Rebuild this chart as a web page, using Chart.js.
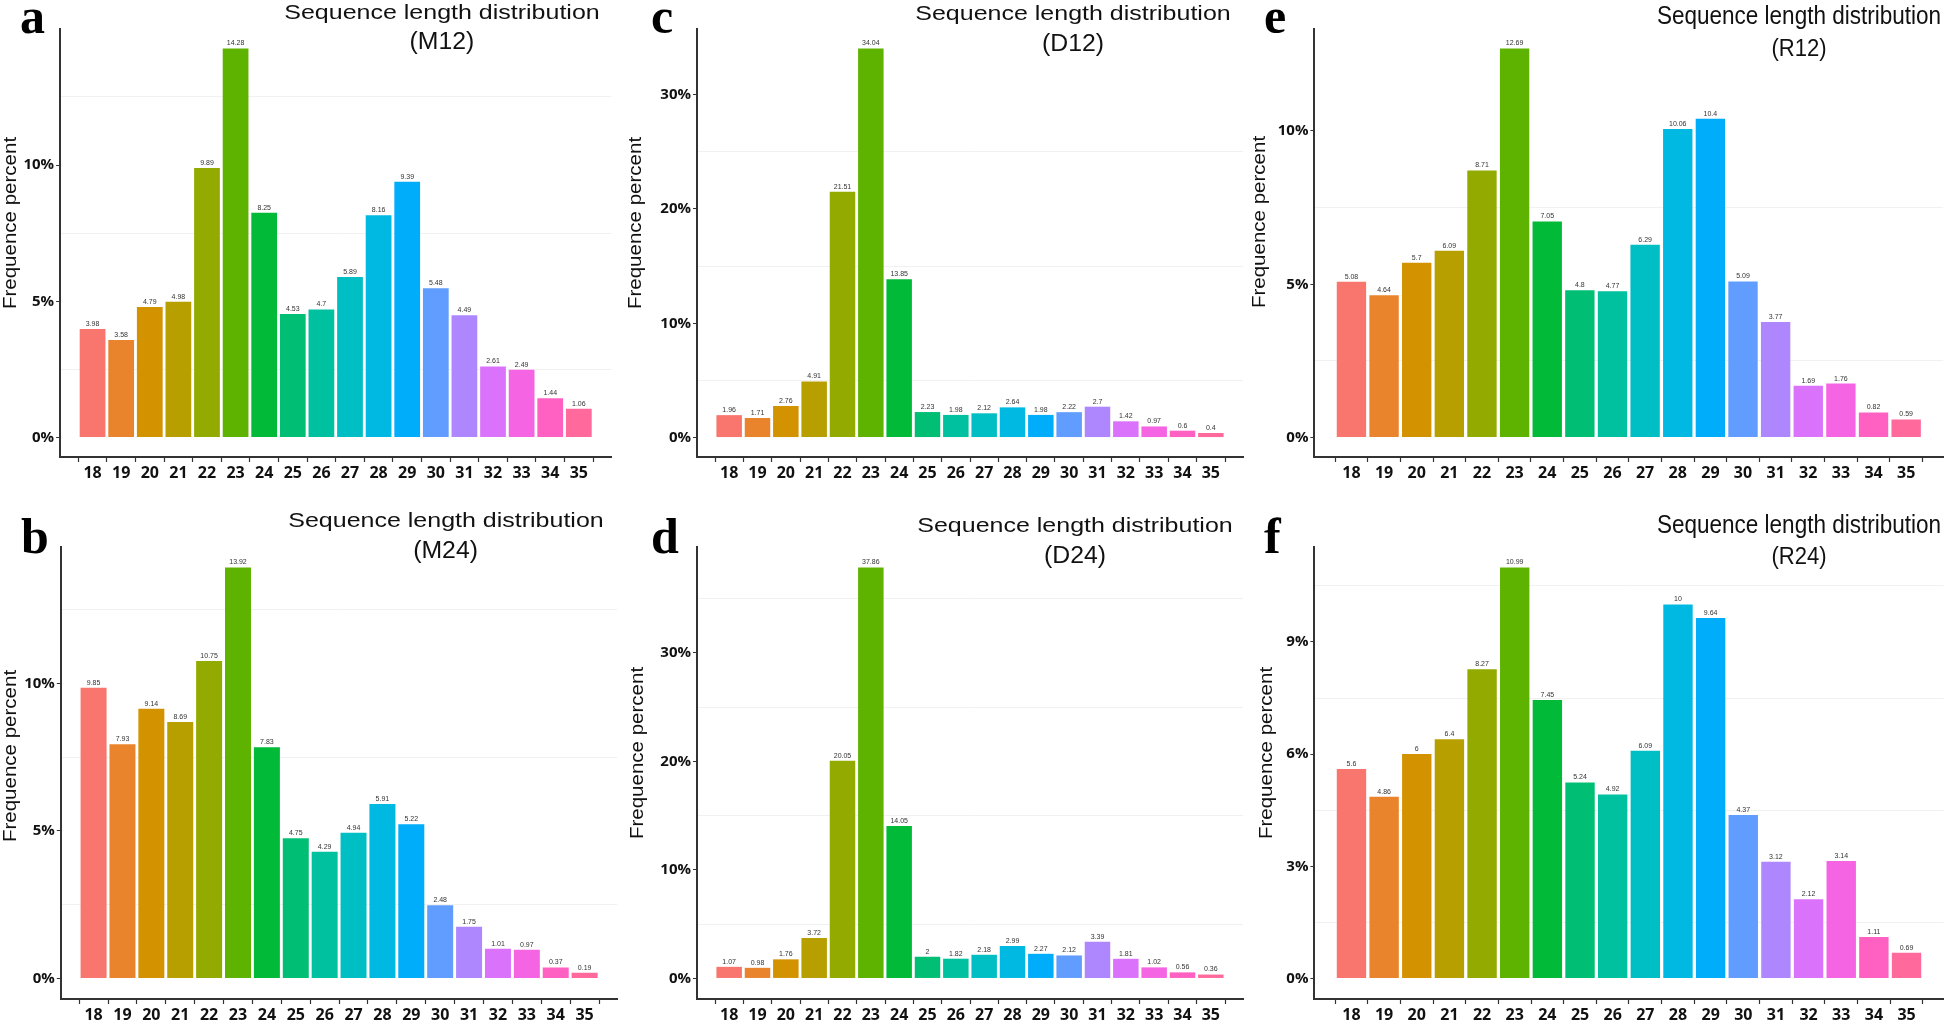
<!DOCTYPE html>
<html>
<head>
<meta charset="utf-8">
<script src="https://cdn.jsdelivr.net/npm/chart.js@4.4.0/dist/chart.umd.min.js"></script>
<style>
html,body{margin:0;padding:0;background:#fff;width:1946px;height:1023px;overflow:hidden;position:relative;font-family:'Liberation Sans',Arial,sans-serif;}
canvas{position:absolute;}
.t{position:absolute;white-space:nowrap;text-align:center;color:#111;line-height:1;font-family:'Liberation Sans',Arial,sans-serif;}
.lbl{position:absolute;font-family:'Liberation Serif','Times New Roman',serif;font-weight:bold;font-size:50px;line-height:1;color:#000;}
.yl{position:absolute;white-space:nowrap;text-align:center;line-height:1;color:#111;font-family:'Liberation Sans',Arial,sans-serif;}
</style>
</head>
<body>
<script>
// ---------- data ----------
const lengths = [18,19,20,21,22,23,24,25,26,27,28,29,30,31,32,33,34,35];

const valuesM12 = [3.98,3.58,4.79,4.98,9.89,14.28,8.25,4.53,4.7,5.89,8.16,9.39,5.48,4.49,2.61,2.49,1.44,1.06];
const valuesM24 = [9.85,7.93,9.14,8.69,10.75,13.92,7.83,4.75,4.29,4.94,5.91,5.22,2.48,1.75,1.01,0.97,0.37,0.19];
const valuesD12 = [1.96,1.71,2.76,4.91,21.51,34.04,13.85,2.23,1.98,2.12,2.64,1.98,2.22,2.7,1.42,0.97,0.6,0.4];
const valuesD24 = [1.07,0.98,1.76,3.72,20.05,37.86,14.05,2,1.82,2.18,2.99,2.27,2.12,3.39,1.81,1.02,0.56,0.36];
const valuesR12 = [5.08,4.64,5.7,6.09,8.71,12.69,7.05,4.8,4.77,6.29,10.06,10.4,5.09,3.77,1.69,1.76,0.82,0.59];
const valuesR24 = [5.6,4.86,6,6.4,8.27,10.99,7.45,5.24,4.92,6.09,10,9.64,4.37,3.12,2.12,3.14,1.11,0.69];

const yTicksM = [0,5,10];       const yMinorM = [2.5,7.5,12.5];
const yTicksD = [0,10,20,30];   const yMinorD12 = [5,15,25];   const yMinorD24 = [5,15,25,35];
const yTicksR12 = [0,5,10];     const yMinorR12 = [2.5,7.5];
const yTicksR24 = [0,3,6,9];    const yMinorR24 = [1.5,4.5,7.5,10.5];

const panelLetters = ['a','b','c','d','e','f'];
const sampleNames = ['M12','M24','D12','D24','R12','R24'];
const titleText = 'Sequence length distribution';
const yTitle = 'Frequence percent';

// ---------- styles ----------
const barColors = ['#F8766D','#E9842C','#D39200','#B79F00','#93AA00','#5EB300','#00BA38','#00BF74','#00C19F',
                   '#00BFC4','#00B9E3','#00ADFA','#619CFF','#AE87FF','#DB72FB','#F564E3','#FF61C3','#FF699C'];

const panels = [
  {letter:0, values:valuesM12, majors:yTicksM,   minors:yMinorM,
   box:[0,0,620,495],     plot:[60.1,611.3,29,457],
   title:{cx:442,b1:18.3,b2:50,fs:21,sx:1.19,fs2:24.8,sx2:1.0}, let:{x:20,b:33.3}, yl:{cx:10,cy:223}},
  {letter:1, values:valuesM24, majors:yTicksM,   minors:yMinorM,
   box:[0,500,625,523],   plot:[60.8,617.4,547,999],
   title:{cx:445.6,b1:526.5,b2:559,fs:21,sx:1.19,fs2:24.8,sx2:1.0}, let:{x:21,b:553}, yl:{cx:10,cy:756}},
  {letter:2, values:valuesD12, majors:yTicksD,   minors:yMinorD12,
   box:[625,0,625,495],   plot:[697,1243,29,457],
   title:{cx:1073,b1:20,b2:52,fs:21,sx:1.19,fs2:24.8,sx2:1.0}, let:{x:651,b:33}, yl:{cx:635,cy:223}},
  {letter:3, values:valuesD24, majors:yTicksD,   minors:yMinorD24,
   box:[625,500,625,523], plot:[697,1243,547,999],
   title:{cx:1075,b1:531.5,b2:564,fs:21,sx:1.19,fs2:24.8,sx2:1.0}, let:{x:651,b:553}, yl:{cx:637,cy:753}},
  {letter:4, values:valuesR12, majors:yTicksR12, minors:yMinorR12,
   box:[1250,0,696,495],  plot:[1314.4,1943.2,29,457],
   title:{cx:1799,b1:24.6,b2:56.5,fs:25,sx:0.9,fs2:24.8,sx2:0.89}, let:{x:1264,b:33}, yl:{cx:1259,cy:222}},
  {letter:5, values:valuesR24, majors:yTicksR24, minors:yMinorR24,
   box:[1250,500,696,523],plot:[1314.4,1943.6,547,999],
   title:{cx:1799,b1:533,b2:565,fs:25,sx:0.9,fs2:24.8,sx2:0.89}, let:{x:1264,b:553}, yl:{cx:1266,cy:753}}
];

const valueLabels = {
  id:'valueLabels',
  afterDatasetsDraw(chart){
    const ctx = chart.ctx;
    const ds = chart.data.datasets[0];
    const meta = chart.getDatasetMeta(0);
    ctx.save();
    ctx.font = '7px "Liberation Sans", Arial, sans-serif';
    ctx.fillStyle = '#333';
    ctx.textAlign = 'center';
    ctx.textBaseline = 'bottom';
    meta.data.forEach((bar,i)=>{
      ctx.fillText(String(ds.data[i].y), bar.x, bar.y - 1.5);
    });
    ctx.restore();
  }
};

function addText(cls, txt, css){
  const d = document.createElement('div');
  d.className = cls;
  d.textContent = txt;
  Object.assign(d.style, css);
  document.body.appendChild(d);
  return d;
}

panels.forEach(p=>{
  const [L,T,W,H] = p.box;
  const [pl,pr,pt,pb] = p.plot;
  const cv = document.createElement('canvas');
  cv.width = W; cv.height = H;
  cv.style.left = L+'px'; cv.style.top = T+'px';
  cv.style.width = W+'px'; cv.style.height = H+'px';
  document.body.appendChild(cv);

  const vals = p.values;
  const vmax = Math.max(...vals);
  const allY = p.majors.concat(p.minors).filter(v=>v <= vmax*1.05).sort((a,b)=>a-b);
  const isMajor = v => p.majors.includes(v);

  new Chart(cv.getContext('2d'), {
    type:'bar',
    data:{
      datasets:[{
        data: lengths.map((l,i)=>({x:l, y:vals[i]})),
        backgroundColor: barColors,
        borderWidth:0,
        barPercentage:0.9,
        categoryPercentage:1.0
      }]
    },
    plugins:[valueLabels],
    options:{
      responsive:false,
      animation:false,
      devicePixelRatio:1,
      layout:{padding:{top:pt-T, right:(L+W)-pr, left:0, bottom:0}},
      plugins:{legend:{display:false}, tooltip:{enabled:false}},
      scales:{
        x:{
          type:'linear',
          min: lengths[0]-0.6,
          max: lengths[lengths.length-1]+0.6,
          afterBuildTicks(s){ s.ticks = lengths.map(v=>({value:v})); },
          afterFit(s){ s.height = (T+H) - pb; s.paddingLeft = 0; s.paddingRight = 0; },
          ticks:{
            autoSkip:false, maxRotation:0, padding:2,
            color:'#111',
            font:{family:'"Open Sans", "Liberation Sans", sans-serif', weight:'bold', size:16},
            callback:(v)=>String(v)
          },
          grid:{drawOnChartArea:false, drawTicks:true, tickLength:5, tickColor:'#333', tickWidth:1.2},
          border:{display:true, color:'#333', width:2}
        },
        y:{
          type:'linear',
          min: -0.05*vmax,
          max: 1.05*vmax,
          afterBuildTicks(s){ s.ticks = allY.map(v=>({value:v})); },
          afterFit(s){ s.width = pl - L; s.paddingTop = 0; s.paddingBottom = 0; },
          ticks:{
            autoSkip:false, padding:2,
            color:'#111',
            font:{family:'"Open Sans", "Liberation Sans", sans-serif', weight:'bold', size:15},
            callback:(v)=> isMajor(v) ? (v+'%') : ''
          },
          grid:{
            drawOnChartArea:true, drawTicks:true, tickLength:4,
            color:(c)=> (c.tick && !isMajor(c.tick.value)) ? '#f1f1f1' : 'rgba(0,0,0,0)',
            tickColor:(c)=> (c.tick && isMajor(c.tick.value)) ? '#333' : 'rgba(0,0,0,0)',
            lineWidth:1
          },
          border:{display:true, color:'#333', width:2}
        }
      }
    }
  });

  // titles (two lines, centered)
  const t = p.title;
  addText('t', titleText, {left:(t.cx-400)+'px', width:'800px', top:(t.b1-0.8465*t.fs)+'px',
    fontSize:t.fs+'px', transform:'scaleX('+t.sx+')'});
  addText('t', '('+sampleNames[p.letter]+')', {left:(t.cx-400)+'px', width:'800px', top:(t.b2-0.8465*t.fs2)+'px',
    fontSize:t.fs2+'px', transform:'scaleX('+t.sx2+')'});
  // panel letter
  addText('lbl', panelLetters[p.letter], {left:p.let.x+'px', top:(p.let.b-0.8375*50)+'px'});
  // y axis title
  addText('yl', yTitle, {left:(p.yl.cx-200)+'px', width:'400px', top:(p.yl.cy-9)+'px',
    fontSize:'18px', transform:'rotate(-90deg) scaleX(1.14)'});
});
</script>
</body>
</html>
